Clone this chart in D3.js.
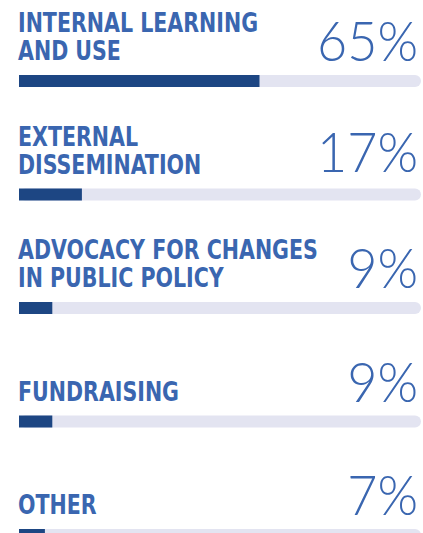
<!DOCTYPE html>
<html>
<head>
<meta charset="utf-8">
<script src="https://cdn.jsdelivr.net/npm/d3@7"></script>
<style>
  html, body { margin: 0; padding: 0; background: #fff; }
  svg { display: block; }
  .label { font-family: "Liberation Sans Narrow", "DejaVu Sans Condensed", "Arial Narrow", sans-serif; font-weight: bold; fill: #3a66b0; }
  .pct { font-family: "Lato", "Open Sans", "Roboto", sans-serif; font-weight: 300; fill: #3a66b0; }
</style>
</head>
<body>
<svg width="423" height="533"></svg>
<script>
// categories (each label split on its lines)
const categories = [
  ["INTERNAL LEARNING", "AND USE"],
  ["EXTERNAL", "DISSEMINATION"],
  ["ADVOCACY FOR CHANGES", "IN PUBLIC POLICY"],
  ["FUNDRAISING"],
  ["OTHER"]
];
const values = [65, 17, 9, 9, 7];
const valueLabels = ["65%", "17%", "9%", "9%", "7%"];

const left = 19, right = 421;
const barH = 12;

const svg = d3.select("svg");

// rows
const y = d3.scalePoint()
  .domain(d3.range(values.length))
  .range([75, 529]);

// bar length (the track is a bit longer than 100%)
const x = d3.scaleLinear()
  .domain([0, 100])
  .range([0, 370]);

const rows = svg.selectAll("g.row")
  .data(values)
  .enter()
  .append("g")
  .attr("class", "row")
  .attr("transform", (d, i) => `translate(0,${y(i)})`);

// grey track
rows.append("rect")
  .attr("x", left)
  .attr("y", 0)
  .attr("width", right - left)
  .attr("height", barH)
  .attr("rx", 6)
  .attr("fill", "#e3e4f1");

// value bar
rows.append("rect")
  .attr("x", left)
  .attr("y", 0)
  .attr("width", d => x(d))
  .attr("height", barH)
  .attr("fill", "#1d4683");

// category labels, squeezed to look condensed
rows.append("text")
  .attr("class", "label")
  .attr("font-size", 26)
  .attr("transform", `translate(${left - 1},0) scale(0.88,1)`)
  .each(function(d, i) {
    const lines = categories[i];
    d3.select(this).selectAll("tspan")
      .data(lines)
      .enter()
      .append("tspan")
      .attr("x", 0)
      .attr("y", (l, j) => -15 - (lines.length - 1 - j) * 28)
      .text(l => l);
  });

// percentages
rows.append("text")
  .attr("class", "pct")
  .attr("transform", (d, i) => `translate(418,${i == 1 ? -17 : -14}) scale(0.93,1)`)
  .attr("text-anchor", "end")
  .attr("font-size", 56)
  .text((d, i) => valueLabels[i]);
</script>
</body>
</html>
